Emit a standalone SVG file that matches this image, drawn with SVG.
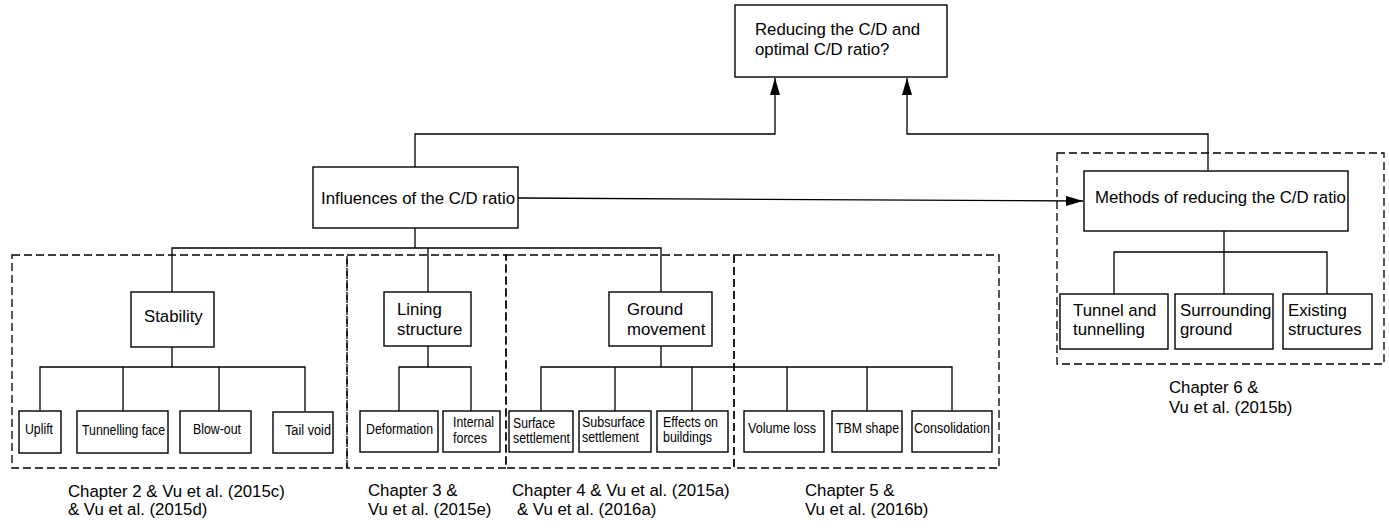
<svg xmlns="http://www.w3.org/2000/svg" width="1389" height="528" viewBox="0 0 1389 528">
<defs>
<style>
.box{fill:#fff;stroke:#000;stroke-width:1.4}
.dash{fill:none;stroke:#000;stroke-width:1.3;stroke-dasharray:8,4}
.ln{fill:none;stroke:#000;stroke-width:1.3}
.t{font-family:"Liberation Sans",Arial,sans-serif;font-size:16.8px;fill:#000}
.s{font-family:"Liberation Sans",Arial,sans-serif;font-size:14px;fill:#000}
.c{font-family:"Liberation Sans",Arial,sans-serif;font-size:16.8px;fill:#000}
</style>
<marker id="arr" viewBox="0 0 17 10" refX="17" refY="5" markerWidth="17" markerHeight="10" markerUnits="userSpaceOnUse" orient="auto">
<path d="M0,0 L17,5 L0,10 Z" fill="#000"/>
</marker>
</defs>
<rect width="1389" height="528" fill="#fff"/>

<g id="groups">
<rect class="dash" x="12" y="255" width="335" height="213"/>
<rect class="dash" x="347" y="255" width="159" height="213"/>
<rect class="dash" x="506" y="255" width="228" height="213"/>
<rect class="dash" x="734" y="255" width="265" height="213"/>
<rect class="dash" x="1057" y="153" width="327" height="211"/>
</g>

<g id="connectors">
<polyline class="ln" points="415,167 415,134 775,134 775,78" marker-end="url(#arr)"/>
<polyline class="ln" points="1208,171 1208,134 907,134 907,78" marker-end="url(#arr)"/>
<line class="ln" x1="518" y1="198" x2="1083" y2="201" marker-end="url(#arr)"/>
<polyline class="ln" points="415,228 415,248"/>
<polyline class="ln" points="172,292 172,248 661,248 661,292"/>
<line class="ln" x1="428" y1="248" x2="428" y2="292"/>
<polyline class="ln" points="172,347 172,367"/>
<polyline class="ln" points="40,411 40,367 305,367 305,411"/>
<line class="ln" x1="123" y1="367" x2="123" y2="411"/>
<line class="ln" x1="219" y1="367" x2="219" y2="411"/>
<polyline class="ln" points="428,346 428,367"/>
<polyline class="ln" points="399,411 399,367 471,367 471,411"/>
<polyline class="ln" points="661,346 661,367"/>
<polyline class="ln" points="541,411 541,367 952,367 952,411"/>
<line class="ln" x1="615" y1="367" x2="615" y2="411"/>
<line class="ln" x1="692" y1="367" x2="692" y2="411"/>
<line class="ln" x1="787" y1="367" x2="787" y2="411"/>
<line class="ln" x1="867" y1="367" x2="867" y2="411"/>
<polyline class="ln" points="1224,231 1224,252"/>
<polyline class="ln" points="1114,294 1114,252 1327,252 1327,294"/>
<line class="ln" x1="1224" y1="252" x2="1224" y2="294"/>
</g>

<g id="n-top"><rect class="box" x="735" y="5" width="212" height="72"/>
<text class="t" x="755" y="35">Reducing the C/D and</text>
<text class="t" x="755" y="55">optimal C/D ratio?</text></g>

<g id="n-influences"><rect class="box" x="313" y="167" width="205" height="61"/>
<text class="t" x="321" y="204">Influences of the C/D ratio</text></g>

<g id="n-methods"><rect class="box" x="1084" y="171" width="264" height="60"/>
<text class="t" x="1095" y="203">Methods of reducing the C/D ratio</text></g>

<g id="n-tunnel"><rect class="box" x="1060" y="294" width="108" height="55"/>
<text class="t" x="1073" y="316">Tunnel and</text><text class="t" x="1073" y="335">tunnelling</text></g>
<g id="n-surrounding"><rect class="box" x="1175" y="294" width="98" height="55"/>
<text class="t" x="1180" y="316">Surrounding</text><text class="t" x="1180" y="335">ground</text></g>
<g id="n-existing"><rect class="box" x="1283" y="294" width="89" height="55"/>
<text class="t" x="1288" y="316">Existing</text><text class="t" x="1288" y="335">structures</text></g>

<g id="n-stability"><rect class="box" x="131" y="292" width="83" height="55"/>
<text class="t" x="144" y="322">Stability</text></g>
<g id="n-lining"><rect class="box" x="384" y="292" width="87" height="54"/>
<text class="t" x="397" y="315">Lining</text><text class="t" x="397" y="335">structure</text></g>
<g id="n-ground"><rect class="box" x="609" y="292" width="103" height="54"/>
<text class="t" x="627" y="315">Ground</text><text class="t" x="627" y="335">movement</text></g>

<g id="n-uplift"><rect class="box" x="19" y="411" width="42" height="42"/>
<text class="s" x="25" y="434" textLength="28" lengthAdjust="spacingAndGlyphs">Uplift</text></g>
<g id="n-face"><rect class="box" x="77" y="411" width="91" height="42"/>
<text class="s" x="82" y="435" textLength="83" lengthAdjust="spacingAndGlyphs">Tunnelling face</text></g>
<g id="n-blowout"><rect class="box" x="180" y="411" width="71" height="42"/>
<text class="s" x="193" y="434" textLength="48" lengthAdjust="spacingAndGlyphs">Blow-out</text></g>
<g id="n-tailvoid"><rect class="box" x="273" y="412" width="60" height="41"/>
<text class="s" x="285" y="435" textLength="46" lengthAdjust="spacingAndGlyphs">Tail void</text></g>

<g id="n-deformation"><rect class="box" x="360" y="411" width="78" height="41"/>
<text class="s" x="366" y="434" textLength="67" lengthAdjust="spacingAndGlyphs">Deformation</text></g>
<g id="n-internal"><rect class="box" x="443" y="411" width="57" height="41"/>
<text class="s" x="453" y="427" textLength="41" lengthAdjust="spacingAndGlyphs">Internal</text>
<text class="s" x="453" y="443" textLength="34" lengthAdjust="spacingAndGlyphs">forces</text></g>

<g id="n-surface"><rect class="box" x="509" y="411" width="64" height="41"/>
<text class="s" x="513" y="428" textLength="42" lengthAdjust="spacingAndGlyphs">Surface</text>
<text class="s" x="513" y="443" textLength="57" lengthAdjust="spacingAndGlyphs">settlement</text></g>
<g id="n-subsurface"><rect class="box" x="579" y="411" width="72" height="41"/>
<text class="s" x="582" y="427" textLength="63" lengthAdjust="spacingAndGlyphs">Subsurface</text>
<text class="s" x="582" y="442" textLength="57" lengthAdjust="spacingAndGlyphs">settlement</text></g>
<g id="n-effects"><rect class="box" x="657" y="411" width="71" height="41"/>
<text class="s" x="663" y="427" textLength="55" lengthAdjust="spacingAndGlyphs">Effects on</text>
<text class="s" x="663" y="442" textLength="49" lengthAdjust="spacingAndGlyphs">buildings</text></g>

<g id="n-volume"><rect class="box" x="744" y="411" width="80" height="41"/>
<text class="s" x="748" y="433" textLength="68" lengthAdjust="spacingAndGlyphs">Volume loss</text></g>
<g id="n-tbm"><rect class="box" x="832" y="411" width="70" height="41"/>
<text class="s" x="836" y="433" textLength="63" lengthAdjust="spacingAndGlyphs">TBM shape</text></g>
<g id="n-consolidation"><rect class="box" x="912" y="411" width="80" height="41"/>
<text class="s" x="914" y="433" textLength="76" lengthAdjust="spacingAndGlyphs">Consolidation</text></g>

<g id="labels">
<text class="c" x="68" y="497">Chapter 2 &amp; Vu et al. (2015c)</text>
<text class="c" x="68" y="515">&amp; Vu et al. (2015d)</text>
<text class="c" x="368" y="496">Chapter 3 &amp;</text>
<text class="c" x="368" y="515">Vu et al. (2015e)</text>
<text class="c" x="512" y="496">Chapter 4 &amp; Vu et al. (2015a)</text>
<text class="c" x="517" y="515">&amp; Vu et al. (2016a)</text>
<text class="c" x="805" y="496">Chapter 5 &amp;</text>
<text class="c" x="805" y="515">Vu et al. (2016b)</text>
<text class="c" x="1169" y="393">Chapter 6 &amp;</text>
<text class="c" x="1169" y="413">Vu et al. (2015b)</text>
</g>
</svg>
